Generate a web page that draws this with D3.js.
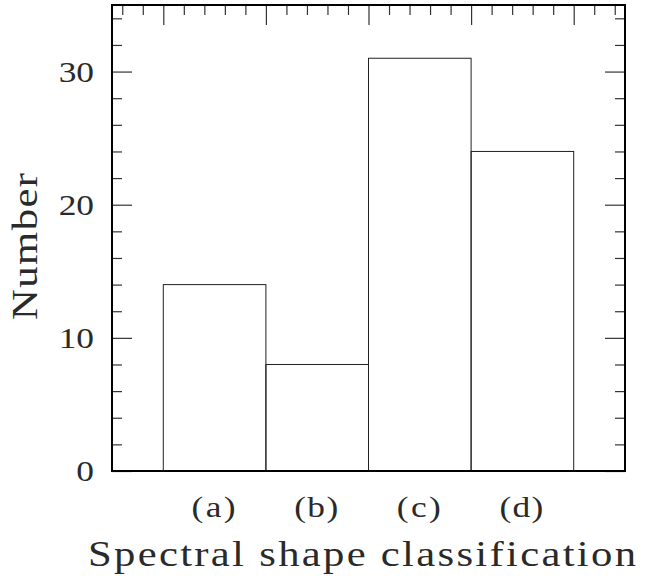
<!DOCTYPE html>
<html>
<head>
<meta charset="utf-8">
<script src="https://cdn.jsdelivr.net/npm/d3@7.9.0/dist/d3.min.js"></script>
<style>
  body { margin: 0; background: #fff; }
  svg { display: block; }
  text { font-family: "Liberation Serif", serif; fill: #2a2a2a; }
</style>
</head>
<body>
<svg id="chart" width="653" height="587"></svg>
<script>
// data
const categories = ["(a)", "(b)", "(c)", "(d)"];
const counts = [14, 8, 31, 24];
const yTickValues = [0, 10, 20, 30];

const svg = d3.select('#chart');

// plot box
const plotLeft = 112, plotRight = 625, plotTop = 5, plotBottom = 471;

// x runs in bin units, bins sit at [i, i+1]
const x = d3.scaleLinear().domain([-0.5, 4.5]).range([plotLeft, plotRight]);
const y = d3.scaleLinear().domain([0, 35]).range([plotBottom, plotTop]);

// bars (histogram boxes)
svg.append('g')
  .selectAll('rect')
  .data(counts)
  .join('rect')
  .attr('x', (d, i) => x(i))
  .attr('y', d => y(d))
  .attr('width', (d, i) => x(i + 1) - x(i))
  .attr('height', d => y(0) - y(d))
  .attr('fill', 'none')
  .attr('stroke', '#222')
  .attr('stroke-width', 1);

// tick helpers
const majorX = d3.range(0, 5);
const minorX = d3.range(-0.4, 4.5, 0.2).filter(v => Math.abs(v - Math.round(v)) > 0.01);
const majorY = yTickValues;
const minorY = d3.range(0, 35, 2).filter(v => v % 10 !== 0);

function styleTicks(g) {
  g.select('.domain').remove();
  g.selectAll('line').attr('stroke', '#333').attr('stroke-width', 1.2);
}

// top ticks (inward)
svg.append('g').attr('transform', `translate(0,${plotTop})`)
  .call(d3.axisTop(x).tickValues(majorX).tickSize(-20).tickFormat(''))
  .call(styleTicks);
svg.append('g').attr('transform', `translate(0,${plotTop})`)
  .call(d3.axisTop(x).tickValues(minorX).tickSize(-10).tickFormat(''))
  .call(styleTicks);

// left axis ticks (labels drawn below with the wide lettering)
svg.append('g').attr('transform', `translate(${plotLeft},0)`)
  .call(d3.axisLeft(y).tickValues(majorY).tickSize(-20).tickFormat(''))
  .call(styleTicks);
svg.append('g').attr('transform', `translate(${plotLeft},0)`)
  .call(d3.axisLeft(y).tickValues(minorY).tickSize(-10).tickFormat(''))
  .call(styleTicks);

// right ticks (inward)
svg.append('g').attr('transform', `translate(${plotRight},0)`)
  .call(d3.axisRight(y).tickValues(majorY).tickSize(-20).tickFormat(''))
  .call(styleTicks);
svg.append('g').attr('transform', `translate(${plotRight},0)`)
  .call(d3.axisRight(y).tickValues(minorY).tickSize(-10).tickFormat(''))
  .call(styleTicks);

// frame
svg.append('rect')
  .attr('x', plotLeft).attr('y', plotTop)
  .attr('width', plotRight - plotLeft).attr('height', plotBottom - plotTop)
  .attr('fill', 'none')
  .attr('stroke', '#000')
  .attr('stroke-width', 2);

// wide lettering: stretch glyphs a bit, then fit to the measured width
const stretch = 1.22;
function wideText(parent, str, tx, ty, size, width, rotate, anchor) {
  const t = parent.append('g')
    .attr('transform', `translate(${tx},${ty})${rotate ? ' rotate(-90)' : ''} scale(${stretch},1)`)
    .append('text')
    .attr('font-size', size)
    .attr('text-anchor', anchor || 'start')
    .text(str);
  if (width) t.attr('textLength', width / stretch).attr('lengthAdjust', 'spacing');
}

// y tick labels, right edge at x=94
yTickValues.forEach(v => wideText(svg, String(v), 94, y(v) + 10, 29, 0, false, 'end'));

// category labels under the bins
categories.forEach((c, i) => wideText(svg, c, x(i + 0.5) - 23, 517, 29, 44, false));

// axis titles
wideText(svg, 'Spectral shape classification', 88, 566, 35, 548, false);
wideText(svg, 'Number', 37, 320, 35, 147, true);
</script>
</body>
</html>
